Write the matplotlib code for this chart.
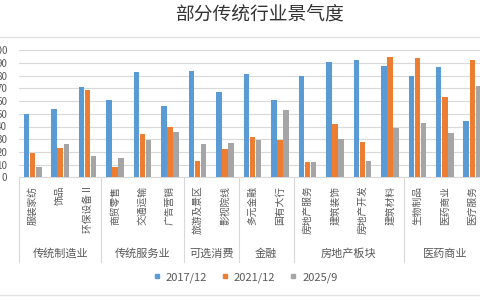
import numpy as np
import matplotlib
matplotlib.use('Agg')
import matplotlib.pyplot as plt
from matplotlib.lines import Line2D
import matplotlib.transforms as mtransforms

plt.rcParams['font.family'] = ['Noto Sans CJK SC', 'DejaVu Sans']

categories = ['服装家纺', '饰品', '环保设备 II', '商贸零售', '交通运输', '广告营销',
              '旅游及景区', '影视院线', '多元金融', '国有大行', '房地产服务', '建筑装饰',
              '房地产开发', '建筑材料', '生物制品', '医药商业', '医疗服务']
groups = ['传统制造业', '传统服务业', '可选消费', '金融', '房地产板块', '医药商业']
group_sizes = [3, 3, 2, 2, 4, 3]
series = ['2017/12', '2021/12', '2025/9']
v2017 = [50, 54, 71, 61, 83, 56, 84, 67, 81, 61, 80, 91, 92, 88, 80, 87, 44]
v2021 = [19, 23, 69, 8, 34, 40, 13, 22, 32, 29, 12, 42, 28, 95, 94, 63, 92]
v2025 = [8, 26, 17, 15, 29, 36, 26, 27, 29, 53, 12, 30, 13, 39, 43, 35, 72]
colors = ['#5B9BD5', '#ED7D31', '#A5A5A5']
txt = '#595959'
grid = '#D9D9D9'

fig = plt.figure(figsize=(4.8, 3.0), dpi=100)
ax = fig.add_axes([19 / 480, 122.7 / 300, 467 / 480, 127 / 300])

x = np.arange(len(categories))
w = 0.2
for i, vals in enumerate([v2017, v2021, v2025]):
    ax.bar(x + (i - 1) * 0.22, vals, width=w, color=colors[i], zorder=3, label=series[i])

ax.set_xlim(-0.5, len(categories) - 0.5)
ax.set_ylim(0, 100)
ax.set_yticks(range(0, 101, 10))
ax.yaxis.grid(True, color=grid, linewidth=0.8, zorder=0)
for s in ['top', 'right', 'left']:
    ax.spines[s].set_visible(False)
ax.spines['bottom'].set_color(grid)
ax.tick_params(axis='y', length=0, pad=8.5, labelsize=7, labelcolor=txt)
ax.set_xticks(x)
ax.set_xticklabels(categories, rotation=90, fontsize=7, color=txt, va='top', ha='center')
ax.tick_params(axis='x', length=0, pad=6)

trans = mtransforms.blended_transform_factory(ax.transData, ax.transAxes)
edges = np.concatenate([[0], np.cumsum(group_sizes)]) - 0.5
for e in edges:
    ax.add_line(Line2D([e, e], [0, -0.667], transform=trans, color=grid,
                       linewidth=0.8, clip_on=False))
for g, a, b in zip(groups, edges[:-1], edges[1:]):
    ax.text((a + b) / 2, -0.6, g, transform=trans, ha='center', va='center',
            fontsize=8, color=txt)

fig.text(0.54, 1 - 14 / 300, '部分传统行业景气度', ha='center', va='center',
         fontsize=13.5, color='#333333')
fig.add_artist(Line2D([0, 1], [1 - 37.3 / 300] * 2, color='#E3E3E3', linewidth=1))
fig.add_artist(Line2D([0, 1], [1 - 295 / 300] * 2, color='#E3E3E3', linewidth=1))

handles = [Line2D([], [], marker='s', linestyle='', markersize=3.5, color=c) for c in colors]
fig.legend(handles, series, loc='center', bbox_to_anchor=(245 / 480, 1 - 277.5 / 300),
           ncol=3, frameon=False, fontsize=8, labelcolor=txt, handlelength=0.8,
           handletextpad=0.4, columnspacing=1.2)

fig.savefig('out.png', dpi=100)
